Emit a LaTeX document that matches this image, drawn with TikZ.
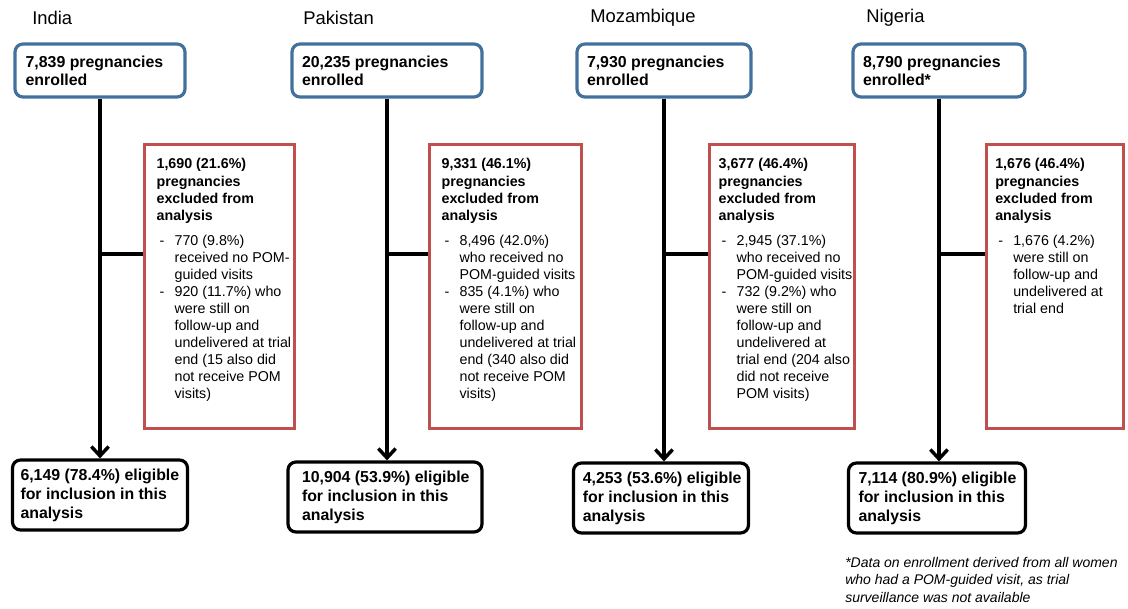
\documentclass[tikz,border=0pt]{standalone}
\usepackage{fontspec}
\setmainfont{Liberation Sans}
\usepackage{xcolor}
\usepackage{tikz}
\usetikzlibrary{arrows.meta,calc,positioning}

\definecolor{enblue}{RGB}{65,113,156}
\definecolor{exred}{RGB}{192,80,77}

% left padding of a box, lines may run up to the border
\newcommand{\boxpad}[1]{\leftskip=#1\rightskip=-20pt plus 1fil\relax}
% one dash item of an exclusion list
\newcommand{\exitem}[1]{\par\hangindent=13.5pt\hangafter=1\noindent\makebox[13.5pt][l]{\hspace{2.3pt}-}#1}

\begin{document}
\begin{tikzpicture} [x=0.75pt, y=-0.75pt,
        country/.style={anchor=west, inner sep=0pt, font=\fontsize{13.8}{16}\selectfont},
        enbox/.style={draw=enblue, line width=2.4pt, rounded corners=6pt, fill=white,
                inner sep=0pt, minimum height=39.75pt,
                font=\fontsize{11.9}{13.5}\selectfont\bfseries},
        elbox/.style={draw=black, line width=2.4pt, rounded corners=6pt, fill=white,
                inner sep=0pt, minimum height=52.5pt,
                font=\fontsize{11.9}{14.25}\selectfont\bfseries},
        exbox/.style={draw=exred, line width=2.4pt, inner sep=0pt, minimum height=213pt,
                anchor=north west, font=\fontsize{10.7}{12.8}\selectfont},
        flow/.style={line width=2.6pt, -{Straight Barb[length=7pt,width=13pt]}},
        branch/.style={line width=2.6pt},
        note/.style={anchor=north west, inner sep=0pt, align=left,
                font=\fontsize{10.5}{13}\selectfont\itshape}]
        \useasboundingbox (0,0) rectangle (1128,608);

        % Parameters
        \def\branchY{254}       % height of the side branches
        \def\exH{192pt}         % text height in the exclusion boxes

        % India
        \node[country] (t1) at (32,18) {India};
        \node[enbox] (en1) at (100,70.5) {\parbox{127.5pt}{\boxpad{8pt}7,839 pregnancies\\enrolled}};
        \node[exbox] (ex1) at (143,143) {\parbox[c][\exH][t]{112.5pt}{\boxpad{9pt}%
                \textbf{1,690 (21.6\%)\\pregnancies\\excluded from\\analysis}\par\vspace{6pt}%
                \exitem{770 (9.8\%)\\received no POM-\\guided visits}%
                \exitem{920 (11.7\%) who\\were still on\\follow-up and\\undelivered at trial\\end (15 also did\\not receive POM\\visits)}}};
        \node[elbox] (el1) at (100,495) {\parbox{131.25pt}{\boxpad{6pt}6,149 (78.4\%) eligible\\for inclusion in this\\analysis}};

        % Pakistan
        \node[country] (t2) at (303,18) {Pakistan};
        \node[enbox] (en2) at (387,70.5) {\parbox{142.5pt}{\boxpad{7.5pt}20,235 pregnancies\\enrolled}};
        \node[exbox] (ex2) at (428,143) {\parbox[c][\exH][t]{114pt}{\boxpad{9pt}%
                \textbf{9,331 (46.1\%)\\pregnancies\\excluded from\\analysis}\par\vspace{6pt}%
                \exitem{8,496 (42.0\%)\\who received no\\POM-guided visits}%
                \exitem{835 (4.1\%) who\\were still on\\follow-up and\\undelivered at trial\\end (340 also did\\not receive POM\\visits)}}};
        \node[elbox] (el2) at (385,497) {\parbox{145.5pt}{\boxpad{10.5pt}10,904 (53.9\%) eligible\\for inclusion in this\\analysis}};

        % Mozambique
        \node[country] (t3) at (590,18) {Mozambique};
        \node[enbox] (en3) at (664,70.5) {\parbox{130.5pt}{\boxpad{7.5pt}7,930 pregnancies\\enrolled}};
        \node[exbox] (ex3) at (708,143) {\parbox[c][\exH][t]{108.75pt}{\boxpad{6.75pt}%
                \textbf{3,677 (46.4\%)\\pregnancies\\excluded from\\analysis}\par\vspace{6pt}%
                \exitem{2,945 (37.1\%)\\who received no\\POM-guided visits}%
                \exitem{732 (9.2\%) who\\were still on\\follow-up and\\undelivered at\\trial end (204 also\\did not receive\\POM visits)}}};
        \node[elbox] (el3) at (661,498) {\parbox{131.25pt}{\boxpad{7pt}4,253 (53.6\%) eligible\\for inclusion in this\\analysis}};

        % Nigeria
        \node[country] (t4) at (866,18) {Nigeria};
        \node[enbox] (en4) at (939,70.5) {\parbox{129pt}{\boxpad{7.5pt}8,790 pregnancies\\enrolled*}};
        \node[exbox] (ex4) at (985,143) {\parbox[c][\exH][t]{102.75pt}{\boxpad{6.5pt}%
                \textbf{1,676 (46.4\%)\\pregnancies\\excluded from\\analysis}\par\vspace{6pt}%
                \exitem{1,676 (4.2\%)\\were still on\\follow-up and\\undelivered at\\trial end}}};
        \node[elbox] (el4) at (937,498) {\parbox{132.75pt}{\boxpad{7.5pt}7,114 (80.9\%) eligible\\for inclusion in this\\analysis}};

        % footnote
        \node[note] (fn) at (845,557) {*Data on enrollment derived from all women\\who had a POM-guided visit, as trial\\surveillance was not available};

        % Connectors
        \foreach \i in {1,...,4} {
            \draw[flow] (en\i.south) -- (en\i.south |- el\i.north);
            \coordinate (b\i) at (en\i.south |- 0,\branchY);
            \draw[branch] (b\i) -- (b\i -| ex\i.west);
        }

\end{tikzpicture}
\end{document}
